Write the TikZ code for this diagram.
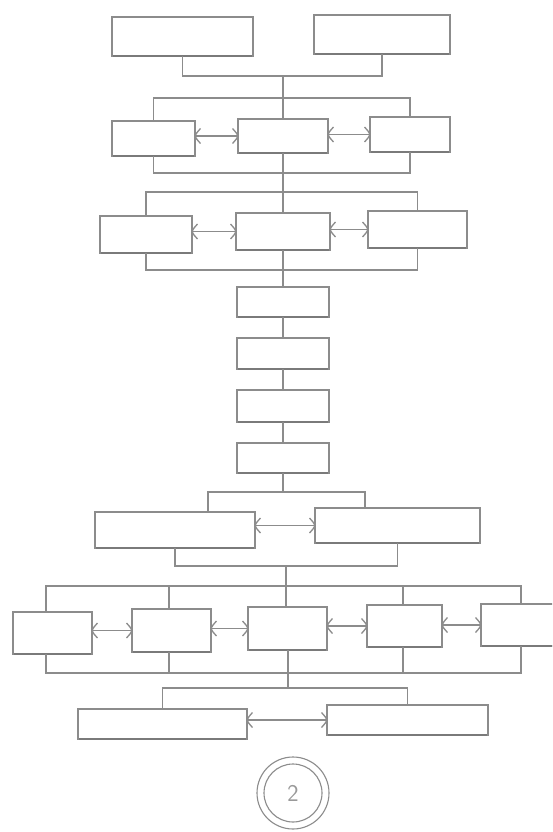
\documentclass[tikz,border=0pt]{standalone}
\usetikzlibrary{arrows.meta}
\definecolor{ln}{HTML}{8C8C8C}
\definecolor{lnd}{HTML}{7A7A7A}
\tikzset{
  blk/.style={draw=ln, line width=1.1pt, fill=white, inner sep=0pt, outer sep=0pt},
  btm/.style={draw=lnd, line width=2.6pt},
  wire/.style={draw=ln, line width=1.1pt},
  chv/.style={draw=ln, line width=1.3pt, line join=miter},
}
\newcommand\bx[5]{%
  \node[blk, minimum width={(#4-#2)*1pt}, minimum height={(#5-#3)*1pt}] (#1) at ({(#2+#4)/2},{(#3+#5)/2}) {};
  \draw[btm] ([xshift=0.6pt]#1.south west) -- ([xshift=-0.6pt]#1.south east);}
% double-headed connector between the east side of #1 and the west side of #2
\newcommand\biarr[2]{%
  \coordinate (#1#2p) at (#1.east |- #2.west);
  \coordinate (#1#2q) at (#2.west);
  \draw[wire] (#1#2p) -- (#1#2q);
  \draw[chv] ([shift={(5.5pt,7.5pt)}]#1#2p) .. controls ([shift={(1.5pt,3pt)}]#1#2p) .. (#1#2p) .. controls ([shift={(1.5pt,-3pt)}]#1#2p) .. ([shift={(5.5pt,-7.5pt)}]#1#2p);
  \draw[chv] ([shift={(-5.5pt,7.5pt)}]#1#2q) .. controls ([shift={(-1.5pt,3pt)}]#1#2q) .. (#1#2q) .. controls ([shift={(-1.5pt,-3pt)}]#1#2q) .. ([shift={(-5.5pt,-7.5pt)}]#1#2q);}
\begin{document}
\begin{tikzpicture}[x=1pt,y=-1pt]
\clip (0,0) rectangle (552,832);
\fill[white] (0,0) rectangle (552,832);
% top row
\bx{A}{112}{17}{253}{56}
\bx{B}{314}{15}{450}{54}
\coordinate (j0) at (283,76);
\draw[wire] (A.south) -- (A.south |- j0) -- (B.south |- j0) -- (B.south);
% row 2
\bx{C1}{112}{121}{195}{156}
\bx{C2}{238}{119}{328}{153}
\bx{C3}{370}{117}{450}{152}
\coordinate (b1) at (283,98);
\draw[wire] (j0) -- (C2.north);
\draw[wire] (C1.north) -- (C1.north |- b1) -- (C3.north |- b1) -- (C3.north);
\coordinate (b2) at (283,173);
\draw[wire] (C1.south) -- (C1.south |- b2) -- (C3.south |- b2) -- (C3.south);
\biarr{C1}{C2}
\biarr{C2}{C3}
% row 3
\bx{D1}{100}{216}{192}{253}
\bx{D2}{236}{213}{330}{250}
\bx{D3}{368}{211}{467}{248}
\coordinate (b3) at (283,192);
\draw[wire] (C2.south) -- (D2.north);
\draw[wire] (D1.north) -- (D1.north |- b3) -- (D3.north |- b3) -- (D3.north);
\coordinate (b4) at (283,270);
\draw[wire] (D1.south) -- (D1.south |- b4) -- (D3.south |- b4) -- (D3.south);
\biarr{D1}{D2}
\biarr{D2}{D3}
% column
\bx{E1}{237}{287}{329}{317}
\bx{E2}{237}{338}{329}{369}
\bx{E3}{237}{390}{329}{422}
\bx{E4}{237}{443}{329}{473}
\draw[wire] (D2.south) -- (E1.north);
\draw[wire] (E1.south) -- (E2.north);
\draw[wire] (E2.south) -- (E3.north);
\draw[wire] (E3.south) -- (E4.north);
% row 5
\bx{F1}{95}{512}{255}{548}
\bx{F2}{315}{508}{480}{543}
\coordinate (b5) at (283,492);
\coordinate (f1t) at (208,492);
\coordinate (f2t) at (365,492);
\draw[wire] (E4.south) -- (b5);
\draw[wire] (F1.north -| f1t) -- (f1t) -- (f2t) -- (F2.north -| f2t);
\biarr{F1}{F2}
\coordinate (b6) at (286,566);
\draw[wire] (F1.south) -- (F1.south |- b6) -- (F2.south |- b6) -- (F2.south);
% row 6
\bx{G1}{13}{612}{92}{654}
\bx{G2}{132}{609}{211}{652}
\bx{G3}{248}{607}{327}{650}
\bx{G4}{367}{605}{442}{647}
\bx{G5}{481}{604}{561}{646}
\draw[wire] (b6) -- (G3.north -| b6);
\coordinate (g1x) at (46,586);
\coordinate (g2x) at (169,586);
\coordinate (g4x) at (403,586);
\coordinate (g5x) at (521,586);
\draw[wire] (G1.north -| g1x) -- (g1x) -- (g5x) -- (G5.north -| g5x);
\draw[wire] (g2x) -- (G2.north -| g2x);
\draw[wire] (g4x) -- (G4.north -| g4x);
\coordinate (h1x) at (46,673);
\coordinate (h2x) at (169,673);
\coordinate (h4x) at (403,673);
\coordinate (h5x) at (521,673);
\draw[wire] (G1.south -| h1x) -- (h1x) -- (h5x) -- (G5.south -| h5x);
\draw[wire] (G2.south -| h2x) -- (h2x);
\draw[wire] (G4.south -| h4x) -- (h4x);
\biarr{G1}{G2}
\biarr{G2}{G3}
\biarr{G3}{G4}
\biarr{G4}{G5}
% row 7
\bx{H1}{78}{709}{247}{739}
\bx{H2}{327}{705}{488}{735}
\coordinate (b9) at (288,688);
\draw[wire] (G3.south -| b9) -- (b9);
\draw[wire] (H1.north) -- (H1.north |- b9) -- (H2.north |- b9) -- (H2.north);
\biarr{H1}{H2}
% page number
\node[circle, draw=ln, line width=1.1pt, minimum size=72pt, inner sep=0pt] (pg) at (293,793) {};
\node[circle, draw=ln, line width=1.1pt, minimum size=58pt, inner sep=0pt, text=gray!80, font=\sffamily\fontsize{24}{24}\selectfont] (pgn) at (pg.center) {2};
\end{tikzpicture}
\end{document}
